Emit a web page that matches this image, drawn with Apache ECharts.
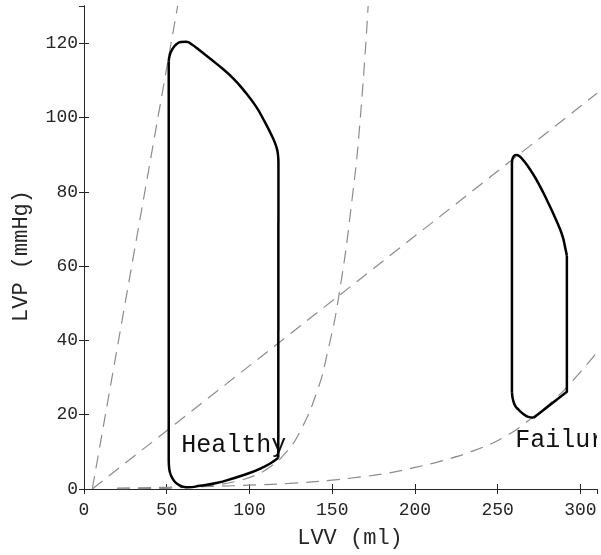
<!DOCTYPE html>
<html lang="en">
<head>
<meta charset="UTF-8">
<title>PV loops</title>
<style>
  html, body {margin:0; padding:0; background:#fff}
  #chart {width:601px; height:555px}
</style>
<script src="https://cdn.jsdelivr.net/npm/echarts@6/dist/echarts.min.js"></script>
<script>
// all points as [LVV (ml), LVP (mmHg)]
// healthy loop, split into its curved arcs and straight walls
const healthyEject = [
  [117.5, 88], [117.2, 90], [116.3, 92], [114, 94.6], [109, 99], [104, 102.9], [98, 106.5],
  [90, 110.6], [80, 114.5], [70, 118], [65, 119.7], [61.8, 120.4], [58.5, 120.3],
  [55.8, 119.7], [53.3, 118.3], [51.8, 116.8], [51.2, 115]
]
const healthyFill = [
  [51.2, 7.8], [51.5, 5.4], [52.6, 3.6], [54.6, 2.1], [57.2, 1.1], [60, 0.6], [63, 0.45],
  [70, 0.85], [80, 1.6], [90.4, 2.9], [100, 4.3], [108, 5.8], [113, 7], [117.4, 8.4]
]
const healthyLeftWall = [[51.2, 115], [51.2, 7.8]]
const healthyRightWall = [[117.4, 8.4], [117.5, 88]]

// failure loop
const failureEject = [
  [291.8, 62.8], [291, 64.5], [289, 68.3], [284.7, 73], [280, 77.5], [274.7, 82.2],
  [270, 85.7], [266, 88.2], [263, 89.6], [261, 89.9], [259.6, 89.5], [258.8, 88.6], [258.6, 87.5]
]
const failureFill = [
  [258.6, 26], [259.3, 23.9], [260.6, 22.4], [262.7, 21.3], [265.5, 20.2], [268.5, 19.4], [271.7, 19.2]
]
const failureLeftWall = [[258.6, 87.5], [258.6, 26]]
const failureRest = [[271.7, 19.2], [291.8, 26.2], [291.8, 62.8]]

// pressure-volume relations (dashed)
const espvrHealthy = [[5, 0], [56.6, 130]]
const espvrFailure = [[5, 0], [310, 106.5]]
const edpvrHealthy = [
  [20, 0.05], [40, 0.14], [60, 0.4], [80, 1.1], [95, 2.4], [105, 4.0], [113, 6.1],
  [121, 9.3], [130, 15], [141, 26.5], [147, 36.5], [154, 52], [162, 78], [167, 100], [171.7, 130]
]
const edpvrFailure = [
  [20, 0.25], [50, 0.45], [80, 0.75], [100, 1.05], [124, 1.5], [150, 2.4], [166, 3.2],
  [180, 4.0], [200, 5.8], [218, 7.8], [236, 10.4], [254, 14], [270, 18.9], [285, 24.4],
  [299, 31], [310, 36.8]
]
const labelNames = ['Healthy', 'Failure']
const labelPos = [[58.8, 11.8], [260.6, 13]]

const font = 'Liberation Mono'
const ink = '#262626'

window.onload = function () {
  let chart = echarts.init(document.getElementById('chart'))

  let boxAxis = {
    type: 'value',
    axisLine: { show: true, lineStyle: { color: ink, width: 1 } },
    axisTick: { show: true, inside: true, length: 5, lineStyle: { color: ink } },
    splitLine: { show: false },
    axisLabel: { show: false }
  }
  let dashed = { color: '#8c8c8c', width: 1.2, type: [13, 8] }
  let solid = { color: '#000', width: 2.5 }

  function curve(data, style, smooth) {
    return { type: 'line', data: data, showSymbol: false, smooth: smooth || false, lineStyle: style }
  }

  let option = {
    animation: false,
    grid: { left: 84, right: 4, top: 6, bottom: 66 },
    xAxis: [
      Object.assign({}, boxAxis, {
        position: 'bottom', min: 0, max: 310, interval: 50,
        axisLabel: { show: true, showMaxLabel: false, margin: 12, color: ink, fontFamily: font, fontSize: 18 },
        name: 'LVV (ml)', nameLocation: 'middle', nameGap: 38,
        nameTextStyle: { color: ink, fontFamily: font, fontSize: 22, padding: [0, 0, 0, 19] }
      }),
      Object.assign({}, boxAxis, { position: 'top', min: 0, max: 310, interval: 50 })
    ],
    yAxis: [
      Object.assign({}, boxAxis, {
        position: 'left', min: 0, max: 130, interval: 20,
        axisLabel: { show: true, showMaxLabel: false, margin: 6, color: ink, fontFamily: font, fontSize: 18 },
        name: 'LVP (mmHg)', nameLocation: 'middle', nameGap: 52,
        nameTextStyle: { color: ink, fontFamily: font, fontSize: 22, padding: [0, 17, 0, 0] }
      }),
      Object.assign({}, boxAxis, { position: 'right', min: 0, max: 130, interval: 20 })
    ],
    series: [
      curve(espvrHealthy, dashed),
      curve(espvrFailure, dashed),
      curve(edpvrHealthy, dashed, 0.5),
      curve(edpvrFailure, dashed, 0.5),
      curve(healthyEject, solid, 0.5),
      curve(healthyLeftWall, solid),
      curve(healthyFill, solid, 0.5),
      curve(healthyRightWall, solid),
      curve(failureEject, solid, 0.5),
      curve(failureLeftWall, solid),
      curve(failureFill, solid, 0.5),
      curve(failureRest, solid),
      {
        type: 'custom', clip: true,
        data: labelPos.map((p, i) => [p[0], p[1], i]),
        renderItem: function (params, api) {
          let pt = api.coord([api.value(0), api.value(1)])
          return {
            type: 'text', x: pt[0], y: pt[1],
            style: {
              text: labelNames[api.value(2)], font: '25px "Liberation Mono"',
              fill: '#111', align: 'left', verticalAlign: 'middle'
            }
          }
        }
      }
    ]
  }

  chart.setOption(option)
}
</script>
</head>
<body>
<div id="chart"></div>
</body>
</html>
